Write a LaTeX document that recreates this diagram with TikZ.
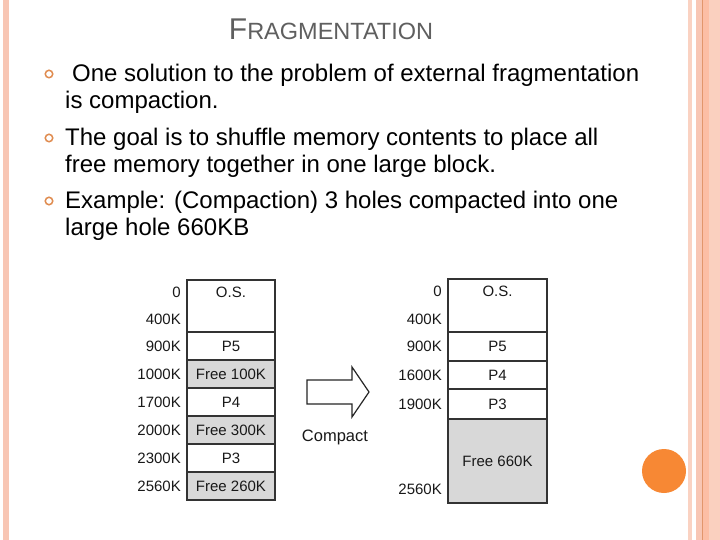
\documentclass[tikz,border=0pt]{standalone}
\usepackage{fontspec}
\setmainfont{Liberation Sans}
\usetikzlibrary{positioning}
\definecolor{titlegray}{RGB}{95,95,95}
\definecolor{bulletorange}{RGB}{224,140,80}
\definecolor{dotorange}{RGB}{247,136,52}
\definecolor{freegray}{RGB}{216,216,216}
\definecolor{stripepink}{RGB}{248,198,180}
\definecolor{stripelight}{RGB}{250,210,194}
\definecolor{stripesalmon}{RGB}{252,190,165}
\definecolor{stripeline}{RGB}{226,150,108}
\newcommand{\bodyfont}{\fontsize{24}{27.5}\selectfont}
\newcommand{\memfont}{\fontsize{15}{16}\selectfont}
\tikzset{
  memcell/.style={
    rectangle, draw=black!80, line width=1.3pt, fill=white,
    minimum width=88pt, minimum height=28pt,
    inner sep=0pt, outer sep=0pt, text=black!90,
    font=\memfont
  },
  freecell/.style={memcell, fill=freegray},
  addr/.style={inner sep=0pt, text=black!90, font=\memfont},
  bulletdot/.style={
    circle, draw=bulletorange, line width=1.5pt,
    minimum size=7.5pt, inner sep=0pt
  },
  bodytext/.style={anchor=base west, inner sep=0pt, align=left, font=\bodyfont},
  bigarrow/.style={draw=black!85, line width=1.2pt, fill=white, line join=miter},
}

\begin{document}
\begin{tikzpicture}[x=1pt, y=-1pt]
  \useasboundingbox (0,0) rectangle (720,540);
  \fill[white] (0,0) rectangle (720,540);

  % Frame stripes and dot
  \fill[stripepink] (3,0) rectangle (9,540);
  \fill[stripelight] (688,0) rectangle (692,540);
  \fill[stripepink] (696,0) rectangle (702,540);
  \fill[stripeline] (702,0) rectangle (703,540);
  \fill[stripesalmon] (703,0) rectangle (709,540);
  \fill[stripelight!80!stripepink] (709,0) rectangle (720,540);
  \fill[dotorange] (664,471) circle (22);

  % Title
  \node[anchor=base, inner sep=0pt, text=titlegray] (title) at (331,40)
       {{\fontsize{30}{30}\selectfont F}{\fontsize{23.5}{30}\selectfont RAGMENTATION}};

  % Bullets (nodes sit on the baseline of their last line)
  \node[bulletdot] (dot1) at (49,74) {};
  \node[bulletdot] (dot2) at (49,138) {};
  \node[bulletdot] (dot3) at (49,201) {};
  \node[bodytext] (item1) at (65,109)
       {\hspace*{7pt}One solution to the problem of external fragmentation\\is compaction.};
  \node[bodytext] (item2) at (65,173)
       {The goal is to shuffle memory contents to place all\\free memory together in one large block.};
  \node[bodytext] (item3) at (65,236)
       {Example: (Compaction) 3 holes compacted into one\\large hole 660KB};

  % Memory before compaction
  \node[memcell, minimum height=52pt, anchor=north west] (osA) at (187,280) {};
  \node[addr, anchor=north] (osAtxt) at ([yshift=-7pt]osA.north) {O.S.};
  \node[memcell, below=0pt of osA] (p5A) {P5};
  \node[freecell, below=0pt of p5A] (hole1A) {Free 100K};
  \node[memcell, below=0pt of hole1A] (p4A) {P4};
  \node[freecell, below=0pt of p4A] (hole2A) {Free 300K};
  \node[memcell, below=0pt of hole2A] (p3A) {P3};
  \node[freecell, below=0pt of p3A] (hole3A) {Free 260K};

  \node[addr, anchor=east] (a0A) at (181,292) {0};
  \node[addr, anchor=east] (a400A) at (181,319) {400K};
  \node[addr, left=6pt of p5A] (a900A) {900K};
  \node[addr, left=6pt of hole1A] (a1000A) {1000K};
  \node[addr, left=6pt of p4A] (a1700A) {1700K};
  \node[addr, left=6pt of hole2A] (a2000A) {2000K};
  \node[addr, left=6pt of p3A] (a2300A) {2300K};
  \node[addr, left=6pt of hole3A] (a2560A) {2560K};

  % Compact arrow
  \draw[bigarrow] (307,380) -- (352,380) -- (352,367) -- (369,392)
                  -- (352,417) -- (352,404) -- (307,404) -- cycle;
  \node[addr, font=\fontsize{16.5}{18}\selectfont] (compact) at (335,437) {Compact};

  % Memory after compaction
  \node[memcell, minimum width=99pt, minimum height=53pt, anchor=north west] (osB) at (448,279) {};
  \node[addr, anchor=north] (osBtxt) at ([yshift=-7pt]osB.north) {O.S.};
  \node[memcell, minimum width=99pt, minimum height=29pt, below=0pt of osB] (p5B) {P5};
  \node[memcell, minimum width=99pt, below=0pt of p5B] (p4B) {P4};
  \node[memcell, minimum width=99pt, minimum height=30pt, below=0pt of p4B] (p3B) {P3};
  \node[freecell, minimum width=99pt, minimum height=84pt, below=0pt of p3B] (holeB) {Free 660K};

  \node[addr, anchor=east] (a0B) at (442,291) {0};
  \node[addr, anchor=east] (a400B) at (442,319) {400K};
  \node[addr, left=6pt of p5B] (a900B) {900K};
  \node[addr, left=6pt of p4B] (a1600B) {1600K};
  \node[addr, left=6pt of p3B] (a1900B) {1900K};
  \node[addr, anchor=east] (a2560B) at (442,489) {2560K};

\end{tikzpicture}
\end{document}
